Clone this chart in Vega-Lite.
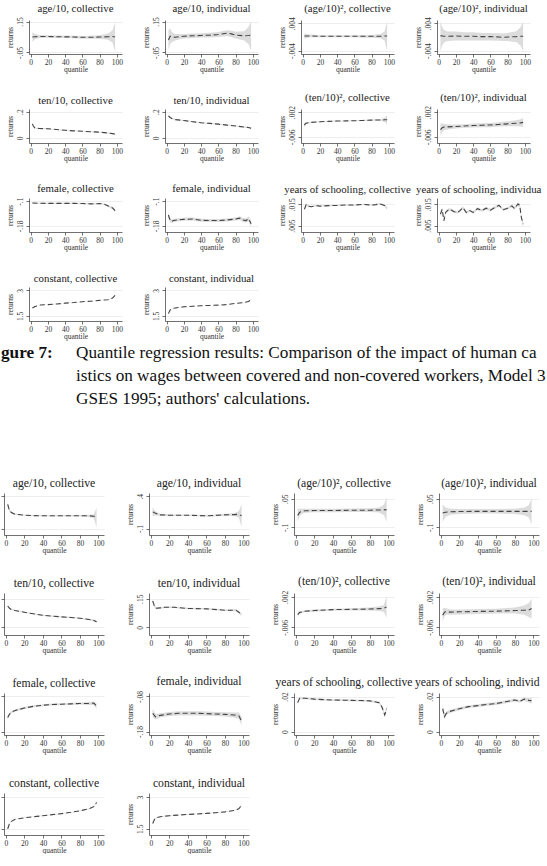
{
"$schema":"https://vega.github.io/schema/vega-lite/v6.json",
"background":"white",
"padding":{"left":0,"top":3,"right":0,"bottom":0},
"spacing":3,
"config":{
"font":"Liberation Serif",
"view":{"stroke":null,"continuousWidth":93,"continuousHeight":34},
"title":{"font":"Liberation Serif","fontSize":10.8,"fontWeight":"normal","color":"#222","offset":3,"frame":"group","anchor":"middle"},
"axis":{"labelFont":"Liberation Serif","titleFont":"Liberation Serif","labelFontSize":7.5,"titleFontSize":7.5,"titleFontWeight":"normal","labelColor":"#333","titleColor":"#333","domainColor":"#333","domainWidth":0.7,"tickColor":"#333","tickWidth":0.7,"tickSize":3,"labelPadding":1,"titlePadding":0,"gridColor":"#e3e3e3","gridWidth":0.6,"labelFlush":false},
"axisX":{"grid":false},
"axisY":{"grid":true,"labelAngle":-90,"labelAlign":"center","labelBaseline":"bottom","labelPadding":2,"titlePadding":2,"labelExpr":"replace(datum.value + '', regexp('^(-?)0\\\\.'), '$1.')"},
"text":{"font":"Liberation Serif","fontSize":7.5,"fill":"#333","angle":-90,"align":"left","baseline":"bottom","dx":-5,"dy":-5},
"line":{"color":"#444","strokeWidth":1.1,"strokeDash":[5,3]},
"area":{"color":"#d8d8d8","opacity":0.9}
},
"vconcat":[
{"hconcat":[
{"width":1,"height":1,"data":{"values":[]},"mark":{"type":"text","angle":0},"encoding":{}},
{"concat":[
{"title":"age/10, collective","data":{"name":"t1"},"encoding":{"x":{"field":"q","type":"quantitative","scale":{"domain":[-2,106]},"axis":{"values":[0,20,40,60,80,100],"title":"quantile"}}},"layer":[{"mark":"area","encoding":{"y":{"field":"lo","type":"quantitative","scale":{"domain":[-0.06,0.16]},"axis":{"values":[-0.05,0,0.05,0.1,0.15],"title":"returns"}},"y2":{"field":"hi"}}},{"mark":"line","encoding":{"y":{"field":"y","type":"quantitative"}}},{"data":{"name":"ya"},"mark":"text","encoding":{"x":{"datum":-2,"type":"quantitative"},"y":{"field":"v","type":"quantitative"},"text":{"field":"t","type":"nominal"}}}]},
{"title":"age/10, individual","data":{"name":"t2"},"encoding":{"x":{"field":"q","type":"quantitative","scale":{"domain":[-2,106]},"axis":{"values":[0,20,40,60,80,100],"title":"quantile"}}},"layer":[{"mark":"area","encoding":{"y":{"field":"lo","type":"quantitative","scale":{"domain":[-0.06,0.16]},"axis":{"values":[-0.05,0,0.05,0.1,0.15],"title":"returns"}},"y2":{"field":"hi"}}},{"mark":"line","encoding":{"y":{"field":"y","type":"quantitative"}}},{"data":{"name":"ya"},"mark":"text","encoding":{"x":{"datum":-2,"type":"quantitative"},"y":{"field":"v","type":"quantitative"},"text":{"field":"t","type":"nominal"}}}]},
{"title":"(age/10)², collective","data":{"name":"t3"},"encoding":{"x":{"field":"q","type":"quantitative","scale":{"domain":[-2,106]},"axis":{"values":[0,20,40,60,80,100],"title":"quantile"}}},"layer":[{"mark":"area","encoding":{"y":{"field":"lo","type":"quantitative","scale":{"domain":[-0.0047,0.0047]},"axis":{"values":[-0.004,-0.002,0,0.002,0.004],"title":"returns"}},"y2":{"field":"hi"}}},{"mark":"line","encoding":{"y":{"field":"y","type":"quantitative"}}},{"data":{"name":"yb"},"mark":"text","encoding":{"x":{"datum":-2,"type":"quantitative"},"y":{"field":"v","type":"quantitative"},"text":{"field":"t","type":"nominal"}}}]},
{"title":"(age/10)², individual","data":{"name":"t4"},"encoding":{"x":{"field":"q","type":"quantitative","scale":{"domain":[-2,106]},"axis":{"values":[0,20,40,60,80,100],"title":"quantile"}}},"layer":[{"mark":"area","encoding":{"y":{"field":"lo","type":"quantitative","scale":{"domain":[-0.0047,0.0047]},"axis":{"values":[-0.004,-0.002,0,0.002,0.004],"title":"returns"}},"y2":{"field":"hi"}}},{"mark":"line","encoding":{"y":{"field":"y","type":"quantitative"}}},{"data":{"name":"yb"},"mark":"text","encoding":{"x":{"datum":-2,"type":"quantitative"},"y":{"field":"v","type":"quantitative"},"text":{"field":"t","type":"nominal"}}}]},
{"title":"ten/10, collective","data":{"name":"t5"},"encoding":{"x":{"field":"q","type":"quantitative","scale":{"domain":[-2,106]},"axis":{"values":[0,20,40,60,80,100],"title":"quantile"}}},"layer":[{"mark":"area","encoding":{"y":{"field":"lo","type":"quantitative","scale":{"domain":[-0.035,0.205]},"axis":{"values":[0,0.05,0.1,0.15,0.2],"title":"returns"}},"y2":{"field":"hi"}}},{"mark":"line","encoding":{"y":{"field":"y","type":"quantitative"}}},{"data":{"name":"yc"},"mark":"text","encoding":{"x":{"datum":-2,"type":"quantitative"},"y":{"field":"v","type":"quantitative"},"text":{"field":"t","type":"nominal"}}}]},
{"title":"ten/10, individual","data":{"name":"t6"},"encoding":{"x":{"field":"q","type":"quantitative","scale":{"domain":[-2,106]},"axis":{"values":[0,20,40,60,80,100],"title":"quantile"}}},"layer":[{"mark":"area","encoding":{"y":{"field":"lo","type":"quantitative","scale":{"domain":[-0.035,0.205]},"axis":{"values":[0,0.05,0.1,0.15,0.2],"title":"returns"}},"y2":{"field":"hi"}}},{"mark":"line","encoding":{"y":{"field":"y","type":"quantitative"}}},{"data":{"name":"yc"},"mark":"text","encoding":{"x":{"datum":-2,"type":"quantitative"},"y":{"field":"v","type":"quantitative"},"text":{"field":"t","type":"nominal"}}}]},
{"title":"(ten/10)², collective","data":{"name":"t7"},"encoding":{"x":{"field":"q","type":"quantitative","scale":{"domain":[-2,106]},"axis":{"values":[0,20,40,60,80,100],"title":"quantile"}}},"layer":[{"mark":"area","encoding":{"y":{"field":"lo","type":"quantitative","scale":{"domain":[-0.0074,0.0021]},"axis":{"values":[-0.006,-0.004,-0.002,0,0.002],"title":"returns"}},"y2":{"field":"hi"}}},{"mark":"line","encoding":{"y":{"field":"y","type":"quantitative"}}},{"data":{"name":"yd"},"mark":"text","encoding":{"x":{"datum":-2,"type":"quantitative"},"y":{"field":"v","type":"quantitative"},"text":{"field":"t","type":"nominal"}}}]},
{"title":"(ten/10)², individual","data":{"name":"t8"},"encoding":{"x":{"field":"q","type":"quantitative","scale":{"domain":[-2,106]},"axis":{"values":[0,20,40,60,80,100],"title":"quantile"}}},"layer":[{"mark":"area","encoding":{"y":{"field":"lo","type":"quantitative","scale":{"domain":[-0.0074,0.0021]},"axis":{"values":[-0.006,-0.004,-0.002,0,0.002],"title":"returns"}},"y2":{"field":"hi"}}},{"mark":"line","encoding":{"y":{"field":"y","type":"quantitative"}}},{"data":{"name":"yd"},"mark":"text","encoding":{"x":{"datum":-2,"type":"quantitative"},"y":{"field":"v","type":"quantitative"},"text":{"field":"t","type":"nominal"}}}]},
{"title":"female, collective","data":{"name":"t9"},"encoding":{"x":{"field":"q","type":"quantitative","scale":{"domain":[-2,106]},"axis":{"values":[0,20,40,60,80,100],"title":"quantile"}}},"layer":[{"mark":"area","encoding":{"y":{"field":"lo","type":"quantitative","scale":{"domain":[-0.194,-0.099]},"axis":{"values":[-0.18,-0.16,-0.14,-0.12,-0.1],"title":"returns"}},"y2":{"field":"hi"}}},{"mark":"line","encoding":{"y":{"field":"y","type":"quantitative"}}},{"data":{"name":"ye"},"mark":"text","encoding":{"x":{"datum":-2,"type":"quantitative"},"y":{"field":"v","type":"quantitative"},"text":{"field":"t","type":"nominal"}}}]},
{"title":"female, individual","data":{"name":"t10"},"encoding":{"x":{"field":"q","type":"quantitative","scale":{"domain":[-2,106]},"axis":{"values":[0,20,40,60,80,100],"title":"quantile"}}},"layer":[{"mark":"area","encoding":{"y":{"field":"lo","type":"quantitative","scale":{"domain":[-0.194,-0.099]},"axis":{"values":[-0.18,-0.16,-0.14,-0.12,-0.1],"title":"returns"}},"y2":{"field":"hi"}}},{"mark":"line","encoding":{"y":{"field":"y","type":"quantitative"}}},{"data":{"name":"ye"},"mark":"text","encoding":{"x":{"datum":-2,"type":"quantitative"},"y":{"field":"v","type":"quantitative"},"text":{"field":"t","type":"nominal"}}}]},
{"title":"years of schooling, collective","data":{"name":"t11"},"encoding":{"x":{"field":"q","type":"quantitative","scale":{"domain":[-2,106]},"axis":{"values":[0,20,40,60,80,100],"title":"quantile"}}},"layer":[{"mark":"area","encoding":{"y":{"field":"lo","type":"quantitative","scale":{"domain":[0.002,0.0176]},"axis":{"values":[0.005,0.01,0.015],"title":"returns"}},"y2":{"field":"hi"}}},{"mark":"line","encoding":{"y":{"field":"y","type":"quantitative"}}},{"data":{"name":"yf"},"mark":"text","encoding":{"x":{"datum":-2,"type":"quantitative"},"y":{"field":"v","type":"quantitative"},"text":{"field":"t","type":"nominal"}}}]},
{"title":{"text":"years of schooling, individua","anchor":"start","dx":-21},"data":{"name":"t12"},"encoding":{"x":{"field":"q","type":"quantitative","scale":{"domain":[-2,106]},"axis":{"values":[0,20,40,60,80,100],"title":"quantile"}}},"layer":[{"mark":"area","encoding":{"y":{"field":"lo","type":"quantitative","scale":{"domain":[0.002,0.0176]},"axis":{"values":[0.005,0.01,0.015],"title":"returns"}},"y2":{"field":"hi"}}},{"mark":"line","encoding":{"y":{"field":"y","type":"quantitative"}}},{"data":{"name":"yf"},"mark":"text","encoding":{"x":{"datum":-2,"type":"quantitative"},"y":{"field":"v","type":"quantitative"},"text":{"field":"t","type":"nominal"}}}]},
{"title":"constant, collective","data":{"name":"t13"},"encoding":{"x":{"field":"q","type":"quantitative","scale":{"domain":[-2,106]},"axis":{"values":[0,20,40,60,80,100],"title":"quantile"}}},"layer":[{"mark":"area","encoding":{"y":{"field":"lo","type":"quantitative","scale":{"domain":[1.35,3.05]},"axis":{"values":[1.5,2,2.5,3],"title":"returns"}},"y2":{"field":"hi"}}},{"mark":"line","encoding":{"y":{"field":"y","type":"quantitative"}}},{"data":{"name":"yg"},"mark":"text","encoding":{"x":{"datum":-2,"type":"quantitative"},"y":{"field":"v","type":"quantitative"},"text":{"field":"t","type":"nominal"}}}]},
{"title":"constant, individual","data":{"name":"t14"},"encoding":{"x":{"field":"q","type":"quantitative","scale":{"domain":[-2,106]},"axis":{"values":[0,20,40,60,80,100],"title":"quantile"}}},"layer":[{"mark":"area","encoding":{"y":{"field":"lo","type":"quantitative","scale":{"domain":[1.35,3.05]},"axis":{"values":[1.5,2,2.5,3],"title":"returns"}},"y2":{"field":"hi"}}},{"mark":"line","encoding":{"y":{"field":"y","type":"quantitative"}}},{"data":{"name":"yg"},"mark":"text","encoding":{"x":{"datum":-2,"type":"quantitative"},"y":{"field":"v","type":"quantitative"},"text":{"field":"t","type":"nominal"}}}]}
],"columns":4,"spacing":{"row":55,"column":43},"bounds":"flush"}
],"spacing":0},
{"hconcat":[
{"width":65,"height":1,"data":{"values":[]},"mark":{"type":"text","angle":0},"encoding":{},"title":{"text":["gure 7:"," "," "],"anchor":"start","fontSize":17.2,"fontWeight":"bold","color":"#111","lineHeight":23,"offset":2,"dx":-3}},
{"width":470,"height":66,"data":{"values":[]},"mark":{"type":"text","angle":0},"encoding":{},"title":{"text":["Quantile regression results:  Comparison of the impact of human ca","istics on wages between covered and non-covered workers, Model 3","GSES 1995; authors' calculations."],"anchor":"start","fontSize":17.2,"fontWeight":"normal","color":"#111","lineHeight":23,"offset":2,"dx":-3}}
],"spacing":7},
{"concat":[
{"width":100,"height":42,"title":{"text":"age/10, collective","fontSize":11.7},"data":{"name":"b1"},"encoding":{"x":{"field":"q","type":"quantitative","scale":{"domain":[-2,106]},"axis":{"values":[0,20,40,60,80,100],"title":"quantile"}}},"layer":[{"mark":"area","encoding":{"y":{"field":"lo","type":"quantitative","scale":{"domain":[-0.19,0.45]},"axis":{"values":[-0.1,0,0.1,0.2,0.3,0.4],"title":null,"labels":false}},"y2":{"field":"hi"}}},{"mark":"line","encoding":{"y":{"field":"y","type":"quantitative"}}}]},
{"width":100,"height":42,"title":{"text":"age/10, individual","fontSize":11.7},"data":{"name":"b2"},"encoding":{"x":{"field":"q","type":"quantitative","scale":{"domain":[-2,106]},"axis":{"values":[0,20,40,60,80,100],"title":"quantile"}}},"layer":[{"mark":"area","encoding":{"y":{"field":"lo","type":"quantitative","scale":{"domain":[-0.19,0.45]},"axis":{"values":[-0.1,0,0.1,0.2,0.3,0.4],"title":"returns"}},"y2":{"field":"hi"}}},{"mark":"line","encoding":{"y":{"field":"y","type":"quantitative"}}},{"data":{"name":"yh"},"mark":"text","encoding":{"x":{"datum":-2,"type":"quantitative"},"y":{"field":"v","type":"quantitative"},"text":{"field":"t","type":"nominal"}}}]},
{"width":100,"height":42,"title":{"text":"(age/10)², collective","fontSize":11.7},"data":{"name":"b3"},"encoding":{"x":{"field":"q","type":"quantitative","scale":{"domain":[-2,106]},"axis":{"values":[0,20,40,60,80,100],"title":"quantile"}}},"layer":[{"mark":"area","encoding":{"y":{"field":"lo","type":"quantitative","scale":{"domain":[-0.124,0.065]},"axis":{"values":[-0.1,-0.05,0,0.05],"title":"returns"}},"y2":{"field":"hi"}}},{"mark":"line","encoding":{"y":{"field":"y","type":"quantitative"}}},{"data":{"name":"yi"},"mark":"text","encoding":{"x":{"datum":-2,"type":"quantitative"},"y":{"field":"v","type":"quantitative"},"text":{"field":"t","type":"nominal"}}}]},
{"width":100,"height":42,"title":{"text":"(age/10)², individual","fontSize":11.7},"data":{"name":"b4"},"encoding":{"x":{"field":"q","type":"quantitative","scale":{"domain":[-2,106]},"axis":{"values":[0,20,40,60,80,100],"title":"quantile"}}},"layer":[{"mark":"area","encoding":{"y":{"field":"lo","type":"quantitative","scale":{"domain":[-0.124,0.065]},"axis":{"values":[-0.1,-0.05,0,0.05],"title":"returns"}},"y2":{"field":"hi"}}},{"mark":"line","encoding":{"y":{"field":"y","type":"quantitative"}}},{"data":{"name":"yi"},"mark":"text","encoding":{"x":{"datum":-2,"type":"quantitative"},"y":{"field":"v","type":"quantitative"},"text":{"field":"t","type":"nominal"}}}]},
{"width":100,"height":42,"title":{"text":"ten/10, collective","fontSize":11.7},"data":{"name":"b5"},"encoding":{"x":{"field":"q","type":"quantitative","scale":{"domain":[-2,106]},"axis":{"values":[0,20,40,60,80,100],"title":"quantile"}}},"layer":[{"mark":"area","encoding":{"y":{"field":"lo","type":"quantitative","scale":{"domain":[-0.024,0.165]},"axis":{"values":[0,0.05,0.1,0.15],"title":null,"labels":false}},"y2":{"field":"hi"}}},{"mark":"line","encoding":{"y":{"field":"y","type":"quantitative"}}}]},
{"width":100,"height":42,"title":{"text":"ten/10, individual","fontSize":11.7},"data":{"name":"b6"},"encoding":{"x":{"field":"q","type":"quantitative","scale":{"domain":[-2,106]},"axis":{"values":[0,20,40,60,80,100],"title":"quantile"}}},"layer":[{"mark":"area","encoding":{"y":{"field":"lo","type":"quantitative","scale":{"domain":[-0.024,0.165]},"axis":{"values":[0,0.05,0.1,0.15],"title":"returns"}},"y2":{"field":"hi"}}},{"mark":"line","encoding":{"y":{"field":"y","type":"quantitative"}}},{"data":{"name":"yj"},"mark":"text","encoding":{"x":{"datum":-2,"type":"quantitative"},"y":{"field":"v","type":"quantitative"},"text":{"field":"t","type":"nominal"}}}]},
{"width":100,"height":42,"title":{"text":"(ten/10)², collective","fontSize":11.7},"data":{"name":"b7"},"encoding":{"x":{"field":"q","type":"quantitative","scale":{"domain":[-2,106]},"axis":{"values":[0,20,40,60,80,100],"title":"quantile"}}},"layer":[{"mark":"area","encoding":{"y":{"field":"lo","type":"quantitative","scale":{"domain":[-0.0073,0.0028]},"axis":{"values":[-0.006,-0.004,-0.002,0,0.002],"title":"returns"}},"y2":{"field":"hi"}}},{"mark":"line","encoding":{"y":{"field":"y","type":"quantitative"}}},{"data":{"name":"yd"},"mark":"text","encoding":{"x":{"datum":-2,"type":"quantitative"},"y":{"field":"v","type":"quantitative"},"text":{"field":"t","type":"nominal"}}}]},
{"width":100,"height":42,"title":{"text":"(ten/10)², individual","fontSize":11.7},"data":{"name":"b8"},"encoding":{"x":{"field":"q","type":"quantitative","scale":{"domain":[-2,106]},"axis":{"values":[0,20,40,60,80,100],"title":"quantile"}}},"layer":[{"mark":"area","encoding":{"y":{"field":"lo","type":"quantitative","scale":{"domain":[-0.0073,0.0028]},"axis":{"values":[-0.006,-0.004,-0.002,0,0.002],"title":"returns"}},"y2":{"field":"hi"}}},{"mark":"line","encoding":{"y":{"field":"y","type":"quantitative"}}},{"data":{"name":"yd"},"mark":"text","encoding":{"x":{"datum":-2,"type":"quantitative"},"y":{"field":"v","type":"quantitative"},"text":{"field":"t","type":"nominal"}}}]},
{"width":100,"height":42,"title":{"text":"female, collective","fontSize":11.7},"data":{"name":"b9"},"encoding":{"x":{"field":"q","type":"quantitative","scale":{"domain":[-2,106]},"axis":{"values":[0,20,40,60,80,100],"title":"quantile"}}},"layer":[{"mark":"area","encoding":{"y":{"field":"lo","type":"quantitative","scale":{"domain":[-0.188,-0.072]},"axis":{"values":[-0.18,-0.16,-0.14,-0.12,-0.1,-0.08],"title":null,"labels":false}},"y2":{"field":"hi"}}},{"mark":"line","encoding":{"y":{"field":"y","type":"quantitative"}}}]},
{"width":100,"height":42,"title":{"text":"female, individual","fontSize":11.7},"data":{"name":"b10"},"encoding":{"x":{"field":"q","type":"quantitative","scale":{"domain":[-2,106]},"axis":{"values":[0,20,40,60,80,100],"title":"quantile"}}},"layer":[{"mark":"area","encoding":{"y":{"field":"lo","type":"quantitative","scale":{"domain":[-0.188,-0.072]},"axis":{"values":[-0.18,-0.16,-0.14,-0.12,-0.1,-0.08],"title":"returns"}},"y2":{"field":"hi"}}},{"mark":"line","encoding":{"y":{"field":"y","type":"quantitative"}}},{"data":{"name":"yl"},"mark":"text","encoding":{"x":{"datum":-2,"type":"quantitative"},"y":{"field":"v","type":"quantitative"},"text":{"field":"t","type":"nominal"}}}]},
{"width":100,"height":42,"title":{"text":"years of schooling, collective","fontSize":11.7},"data":{"name":"b11"},"encoding":{"x":{"field":"q","type":"quantitative","scale":{"domain":[-2,106]},"axis":{"values":[0,20,40,60,80,100],"title":"quantile"}}},"layer":[{"mark":"area","encoding":{"y":{"field":"lo","type":"quantitative","scale":{"domain":[-0.0017,0.0217]},"axis":{"values":[0,0.005,0.01,0.015,0.02],"title":"returns"}},"y2":{"field":"hi"}}},{"mark":"line","encoding":{"y":{"field":"y","type":"quantitative"}}},{"data":{"name":"ym"},"mark":"text","encoding":{"x":{"datum":-2,"type":"quantitative"},"y":{"field":"v","type":"quantitative"},"text":{"field":"t","type":"nominal"}}}]},
{"width":100,"height":42,"title":{"text":"years of schooling, individ","fontSize":11.7,"anchor":"start","dx":-24},"data":{"name":"b12"},"encoding":{"x":{"field":"q","type":"quantitative","scale":{"domain":[-2,106]},"axis":{"values":[0,20,40,60,80,100],"title":"quantile"}}},"layer":[{"mark":"area","encoding":{"y":{"field":"lo","type":"quantitative","scale":{"domain":[-0.0017,0.0217]},"axis":{"values":[0,0.005,0.01,0.015,0.02],"title":"returns"}},"y2":{"field":"hi"}}},{"mark":"line","encoding":{"y":{"field":"y","type":"quantitative"}}},{"data":{"name":"ym"},"mark":"text","encoding":{"x":{"datum":-2,"type":"quantitative"},"y":{"field":"v","type":"quantitative"},"text":{"field":"t","type":"nominal"}}}]},
{"width":100,"height":42,"title":{"text":"constant, collective","fontSize":11.7},"data":{"name":"b13"},"encoding":{"x":{"field":"q","type":"quantitative","scale":{"domain":[-2,106]},"axis":{"values":[0,20,40,60,80,100],"title":"quantile"}}},"layer":[{"mark":"area","encoding":{"y":{"field":"lo","type":"quantitative","scale":{"domain":[1.33,3.13]},"axis":{"values":[1.5,2,2.5,3],"title":null,"labels":false}},"y2":{"field":"hi"}}},{"mark":"line","encoding":{"y":{"field":"y","type":"quantitative"}}}]},
{"width":100,"height":42,"title":{"text":"constant, individual","fontSize":11.7},"data":{"name":"b14"},"encoding":{"x":{"field":"q","type":"quantitative","scale":{"domain":[-2,106]},"axis":{"values":[0,20,40,60,80,100],"title":"quantile"}}},"layer":[{"mark":"area","encoding":{"y":{"field":"lo","type":"quantitative","scale":{"domain":[1.33,3.13]},"axis":{"values":[1.5,2,2.5,3],"title":"returns"}},"y2":{"field":"hi"}}},{"mark":"line","encoding":{"y":{"field":"y","type":"quantitative"}}},{"data":{"name":"yg"},"mark":"text","encoding":{"x":{"datum":-2,"type":"quantitative"},"y":{"field":"v","type":"quantitative"},"text":{"field":"t","type":"nominal"}}}]}
],"columns":4,"spacing":{"row":58,"column":45},"bounds":"flush"}
],
"datasets":{
"ya":[{"v":0,"t":"0"},{"v":0.05,"t":".05"},{"v":0.1,"t":".1"}],
"yb":[{"v":-0.002,"t":"-.002"},{"v":0,"t":"0"},{"v":0.002,"t":".002"}],
"yc":[{"v":0.05,"t":".05"},{"v":0.1,"t":".1"},{"v":0.15,"t":".15"}],
"yd":[{"v":-0.004,"t":"-.004"},{"v":-0.002,"t":"-.002"},{"v":0,"t":"0"}],
"ye":[{"v":-0.16,"t":"-.16"},{"v":-0.14,"t":"-.14"},{"v":-0.12,"t":"-.12"}],
"yf":[{"v":0.01,"t":".01"}],
"yg":[{"v":2,"t":"2"},{"v":2.5,"t":"2.5"}],
"yh":[{"v":0,"t":"0"},{"v":0.1,"t":".1"},{"v":0.2,"t":".2"},{"v":0.3,"t":".3"}],
"yi":[{"v":-0.05,"t":"-.05"},{"v":0,"t":"0"}],
"yj":[{"v":0.05,"t":".05"},{"v":0.1,"t":".1"}],
"yl":[{"v":-0.16,"t":"-.16"},{"v":-0.14,"t":"-.14"},{"v":-0.12,"t":"-.12"},{"v":-0.1,"t":"-.1"}],
"ym":[{"v":0.005,"t":".005"},{"v":0.01,"t":".01"},{"v":0.015,"t":".015"}],
"t1":[{"q":2,"y":0.05,"lo":0.02,"hi":0.08},{"q":5,"y":0.052,"lo":0.035,"hi":0.069},{"q":10,"y":0.053,"lo":0.043,"hi":0.063},{"q":20,"y":0.053,"lo":0.045,"hi":0.061},{"q":30,"y":0.052,"lo":0.044,"hi":0.06},{"q":40,"y":0.051,"lo":0.043,"hi":0.059},{"q":50,"y":0.05,"lo":0.042,"hi":0.058},{"q":60,"y":0.048,"lo":0.039,"hi":0.057},{"q":70,"y":0.048,"lo":0.038,"hi":0.058},{"q":80,"y":0.05,"lo":0.038,"hi":0.062},{"q":90,"y":0.052,"lo":0.032,"hi":0.072},{"q":95,"y":0.053,"lo":0.013,"hi":0.093},{"q":98,"y":0.05,"lo":-0.045,"hi":0.145}],
"t2":[{"q":2,"y":0.03,"lo":-0.035,"hi":0.095},{"q":4,"y":0.055,"lo":0.005,"hi":0.105},{"q":6,"y":0.05,"lo":0.018,"hi":0.082},{"q":10,"y":0.048,"lo":0.027,"hi":0.069},{"q":15,"y":0.052,"lo":0.035,"hi":0.069},{"q":20,"y":0.055,"lo":0.04,"hi":0.07},{"q":30,"y":0.058,"lo":0.044,"hi":0.072},{"q":40,"y":0.06,"lo":0.046,"hi":0.074},{"q":50,"y":0.062,"lo":0.047,"hi":0.077},{"q":60,"y":0.066,"lo":0.05,"hi":0.082},{"q":70,"y":0.075,"lo":0.057,"hi":0.093},{"q":75,"y":0.07,"lo":0.05,"hi":0.09},{"q":80,"y":0.062,"lo":0.04,"hi":0.084},{"q":90,"y":0.058,"lo":0.028,"hi":0.088},{"q":95,"y":0.06,"lo":0.005,"hi":0.115},{"q":98,"y":0.062,"lo":-0.04,"hi":0.15}],
"t3":[{"q":2,"y":0.0003,"lo":-0.0005,"hi":0.0011},{"q":5,"y":0.0003,"lo":-0.0002,"hi":0.0008},{"q":10,"y":0.0003,"lo":-0.0001,"hi":0.0007},{"q":20,"y":0.0002,"lo":-0.0001,"hi":0.0005},{"q":30,"y":0.0002,"lo":-0.0001,"hi":0.0005},{"q":40,"y":0.0002,"lo":-0.0001,"hi":0.0005},{"q":50,"y":0.0002,"lo":-0.0001,"hi":0.0005},{"q":60,"y":0.0002,"lo":-0.0001,"hi":0.0005},{"q":70,"y":0.0002,"lo":-0.0002,"hi":0.0006},{"q":80,"y":0.0002,"lo":-0.0002,"hi":0.0006},{"q":90,"y":0.0002,"lo":-0.0004,"hi":0.0008},{"q":95,"y":0.0003,"lo":-0.001,"hi":0.0016},{"q":98,"y":0.0003,"lo":-0.0042,"hi":0.0045}],
"t4":[{"q":2,"y":0.0004,"lo":-0.0042,"hi":0.0045},{"q":4,"y":0.0003,"lo":-0.0025,"hi":0.0031},{"q":6,"y":0.0002,"lo":-0.0017,"hi":0.0021},{"q":10,"y":0.0002,"lo":-0.0012,"hi":0.0016},{"q":20,"y":0.0003,"lo":-0.001,"hi":0.0016},{"q":30,"y":0.0002,"lo":-0.001,"hi":0.0014},{"q":40,"y":0.0002,"lo":-0.001,"hi":0.0014},{"q":50,"y":0.0001,"lo":-0.001,"hi":0.0012},{"q":60,"y":0.0001,"lo":-0.001,"hi":0.0012},{"q":70,"y":0,"lo":-0.0011,"hi":0.0011},{"q":75,"y":-0.0001,"lo":-0.0012,"hi":0.001},{"q":80,"y":0,"lo":-0.0012,"hi":0.0012},{"q":90,"y":0.0001,"lo":-0.0015,"hi":0.0017},{"q":95,"y":0.0002,"lo":-0.0025,"hi":0.0029},{"q":98,"y":0.0002,"lo":-0.0042,"hi":0.0045}],
"t5":[{"q":2,"y":0.106,"lo":0.1,"hi":0.112},{"q":3,"y":0.09,"lo":0.085,"hi":0.095},{"q":5,"y":0.073,"lo":0.069,"hi":0.077},{"q":10,"y":0.071,"lo":0.068,"hi":0.074},{"q":20,"y":0.069,"lo":0.066,"hi":0.072},{"q":30,"y":0.063,"lo":0.06,"hi":0.066},{"q":40,"y":0.057,"lo":0.054,"hi":0.06},{"q":50,"y":0.053,"lo":0.05,"hi":0.056},{"q":60,"y":0.05,"lo":0.047,"hi":0.053},{"q":70,"y":0.046,"lo":0.043,"hi":0.049},{"q":80,"y":0.043,"lo":0.04,"hi":0.046},{"q":90,"y":0.036,"lo":0.032,"hi":0.04},{"q":95,"y":0.032,"lo":0.027,"hi":0.037},{"q":98,"y":0.027,"lo":0.02,"hi":0.034}],
"t6":[{"q":2,"y":0.168,"lo":0.16,"hi":0.176},{"q":4,"y":0.155,"lo":0.149,"hi":0.161},{"q":6,"y":0.147,"lo":0.142,"hi":0.152},{"q":10,"y":0.139,"lo":0.135,"hi":0.143},{"q":20,"y":0.132,"lo":0.128,"hi":0.136},{"q":30,"y":0.123,"lo":0.119,"hi":0.127},{"q":40,"y":0.115,"lo":0.111,"hi":0.119},{"q":50,"y":0.11,"lo":0.106,"hi":0.114},{"q":60,"y":0.104,"lo":0.1,"hi":0.108},{"q":70,"y":0.097,"lo":0.093,"hi":0.101},{"q":80,"y":0.09,"lo":0.086,"hi":0.094},{"q":90,"y":0.082,"lo":0.077,"hi":0.087},{"q":95,"y":0.078,"lo":0.072,"hi":0.084},{"q":98,"y":0.073,"lo":0.065,"hi":0.081}],
"t7":[{"q":2,"y":-0.00225,"lo":-0.003,"hi":-0.0015},{"q":3,"y":-0.00175,"lo":-0.0022,"hi":-0.0013},{"q":5,"y":-0.00153,"lo":-0.0018,"hi":-0.0013},{"q":10,"y":-0.00133,"lo":-0.0015,"hi":-0.00116},{"q":20,"y":-0.00114,"lo":-0.0013,"hi":-0.00098},{"q":30,"y":-0.001,"lo":-0.00116,"hi":-0.00084},{"q":40,"y":-0.0009,"lo":-0.00106,"hi":-0.00074},{"q":50,"y":-0.00085,"lo":-0.001,"hi":-0.0007},{"q":60,"y":-0.0008,"lo":-0.00096,"hi":-0.00064},{"q":70,"y":-0.0007,"lo":-0.00088,"hi":-0.00052},{"q":80,"y":-0.0006,"lo":-0.0008,"hi":-0.0004},{"q":90,"y":-0.00055,"lo":-0.0008,"hi":-0.0003},{"q":95,"y":-0.0005,"lo":-0.0012,"hi":0.0002},{"q":98,"y":-0.0005,"lo":-0.0019,"hi":0.0009}],
"t8":[{"q":2,"y":-0.00364,"lo":-0.0056,"hi":-0.0017},{"q":4,"y":-0.00308,"lo":-0.0045,"hi":-0.0017},{"q":6,"y":-0.00286,"lo":-0.0039,"hi":-0.0018},{"q":10,"y":-0.0028,"lo":-0.0036,"hi":-0.002},{"q":20,"y":-0.00264,"lo":-0.0033,"hi":-0.002},{"q":30,"y":-0.0025,"lo":-0.0031,"hi":-0.0019},{"q":40,"y":-0.00236,"lo":-0.003,"hi":-0.0017},{"q":50,"y":-0.00226,"lo":-0.0029,"hi":-0.0016},{"q":60,"y":-0.00217,"lo":-0.0029,"hi":-0.0015},{"q":70,"y":-0.002,"lo":-0.0027,"hi":-0.0013},{"q":80,"y":-0.0018,"lo":-0.0026,"hi":-0.001},{"q":90,"y":-0.0016,"lo":-0.0026,"hi":-0.0006},{"q":95,"y":-0.0015,"lo":-0.0027,"hi":-0.0003},{"q":98,"y":-0.00133,"lo":-0.0028,"hi":0.0001}],
"t9":[{"q":2,"y":-0.1063,"lo":-0.109,"hi":-0.1036},{"q":10,"y":-0.107,"lo":-0.109,"hi":-0.105},{"q":20,"y":-0.1075,"lo":-0.1095,"hi":-0.1055},{"q":30,"y":-0.1075,"lo":-0.1095,"hi":-0.1055},{"q":40,"y":-0.1075,"lo":-0.1095,"hi":-0.1055},{"q":50,"y":-0.1075,"lo":-0.1095,"hi":-0.1055},{"q":60,"y":-0.108,"lo":-0.11,"hi":-0.106},{"q":70,"y":-0.109,"lo":-0.111,"hi":-0.107},{"q":80,"y":-0.108,"lo":-0.11,"hi":-0.106},{"q":85,"y":-0.11,"lo":-0.112,"hi":-0.108},{"q":90,"y":-0.116,"lo":-0.119,"hi":-0.113},{"q":95,"y":-0.122,"lo":-0.126,"hi":-0.118},{"q":98,"y":-0.131,"lo":-0.136,"hi":-0.126}],
"t10":[{"q":2,"y":-0.145,"lo":-0.155,"hi":-0.135},{"q":3,"y":-0.155,"lo":-0.163,"hi":-0.147},{"q":5,"y":-0.166,"lo":-0.172,"hi":-0.16},{"q":8,"y":-0.163,"lo":-0.168,"hi":-0.158},{"q":12,"y":-0.161,"lo":-0.166,"hi":-0.156},{"q":20,"y":-0.159,"lo":-0.164,"hi":-0.154},{"q":30,"y":-0.158,"lo":-0.163,"hi":-0.153},{"q":40,"y":-0.162,"lo":-0.167,"hi":-0.157},{"q":50,"y":-0.163,"lo":-0.168,"hi":-0.158},{"q":60,"y":-0.163,"lo":-0.168,"hi":-0.158},{"q":70,"y":-0.161,"lo":-0.166,"hi":-0.156},{"q":80,"y":-0.158,"lo":-0.163,"hi":-0.153},{"q":85,"y":-0.155,"lo":-0.161,"hi":-0.149},{"q":88,"y":-0.161,"lo":-0.167,"hi":-0.155},{"q":92,"y":-0.163,"lo":-0.17,"hi":-0.156},{"q":95,"y":-0.157,"lo":-0.165,"hi":-0.149},{"q":98,"y":-0.173,"lo":-0.183,"hi":-0.163}],
"t11":[{"q":2,"y":0.0127,"lo":0.0121,"hi":0.0133},{"q":4,"y":0.0149,"lo":0.0144,"hi":0.0154},{"q":6,"y":0.0142,"lo":0.0138,"hi":0.0146},{"q":10,"y":0.0139,"lo":0.0136,"hi":0.0142},{"q":15,"y":0.0144,"lo":0.0141,"hi":0.0147},{"q":20,"y":0.0142,"lo":0.0139,"hi":0.0145},{"q":30,"y":0.0144,"lo":0.0141,"hi":0.0147},{"q":40,"y":0.0145,"lo":0.0142,"hi":0.0148},{"q":50,"y":0.0147,"lo":0.0144,"hi":0.015},{"q":60,"y":0.0147,"lo":0.0144,"hi":0.015},{"q":70,"y":0.015,"lo":0.0147,"hi":0.0153},{"q":80,"y":0.0147,"lo":0.0144,"hi":0.015},{"q":85,"y":0.0149,"lo":0.0146,"hi":0.0152},{"q":90,"y":0.0152,"lo":0.0148,"hi":0.0156},{"q":95,"y":0.0145,"lo":0.014,"hi":0.015},{"q":98,"y":0.0133,"lo":0.0126,"hi":0.014}],
"t12":[{"q":2,"y":0.0104,"lo":0.0094,"hi":0.0114},{"q":4,"y":0.0127,"lo":0.0118,"hi":0.0136},{"q":6,"y":0.0073,"lo":0.0065,"hi":0.0081},{"q":8,"y":0.0112,"lo":0.0105,"hi":0.0119},{"q":12,"y":0.0127,"lo":0.0121,"hi":0.0133},{"q":15,"y":0.0122,"lo":0.0116,"hi":0.0128},{"q":18,"y":0.0115,"lo":0.0109,"hi":0.0121},{"q":22,"y":0.0112,"lo":0.0106,"hi":0.0118},{"q":25,"y":0.0122,"lo":0.0116,"hi":0.0128},{"q":28,"y":0.0135,"lo":0.0129,"hi":0.0141},{"q":32,"y":0.0112,"lo":0.0106,"hi":0.0118},{"q":36,"y":0.0121,"lo":0.0115,"hi":0.0127},{"q":40,"y":0.0112,"lo":0.0106,"hi":0.0118},{"q":45,"y":0.013,"lo":0.0124,"hi":0.0136},{"q":50,"y":0.0121,"lo":0.0115,"hi":0.0127},{"q":55,"y":0.0132,"lo":0.0126,"hi":0.0138},{"q":60,"y":0.0123,"lo":0.0117,"hi":0.0129},{"q":65,"y":0.0135,"lo":0.0129,"hi":0.0141},{"q":70,"y":0.0145,"lo":0.0139,"hi":0.0151},{"q":75,"y":0.0125,"lo":0.0119,"hi":0.0131},{"q":80,"y":0.0132,"lo":0.0126,"hi":0.0138},{"q":85,"y":0.0143,"lo":0.0137,"hi":0.0149},{"q":88,"y":0.013,"lo":0.0123,"hi":0.0137},{"q":92,"y":0.0152,"lo":0.0144,"hi":0.016},{"q":94,"y":0.0146,"lo":0.0137,"hi":0.0155},{"q":96,"y":0.0088,"lo":0.0078,"hi":0.0098},{"q":98,"y":0.0057,"lo":0.0045,"hi":0.0069}],
"t13":[{"q":2,"y":1.965,"lo":1.94,"hi":1.99},{"q":5,"y":2.05,"lo":2.035,"hi":2.065},{"q":10,"y":2.135,"lo":2.125,"hi":2.145},{"q":20,"y":2.165,"lo":2.155,"hi":2.175},{"q":30,"y":2.2,"lo":2.19,"hi":2.21},{"q":40,"y":2.25,"lo":2.24,"hi":2.26},{"q":50,"y":2.285,"lo":2.275,"hi":2.295},{"q":60,"y":2.335,"lo":2.325,"hi":2.345},{"q":70,"y":2.365,"lo":2.355,"hi":2.375},{"q":80,"y":2.415,"lo":2.405,"hi":2.425},{"q":90,"y":2.45,"lo":2.435,"hi":2.465},{"q":95,"y":2.55,"lo":2.53,"hi":2.57},{"q":98,"y":2.715,"lo":2.68,"hi":2.75}],
"t14":[{"q":2,"y":1.635,"lo":1.59,"hi":1.68},{"q":3,"y":1.75,"lo":1.72,"hi":1.78},{"q":4,"y":1.85,"lo":1.83,"hi":1.87},{"q":6,"y":1.935,"lo":1.92,"hi":1.95},{"q":10,"y":1.965,"lo":1.955,"hi":1.975},{"q":20,"y":2.035,"lo":2.025,"hi":2.045},{"q":30,"y":2.065,"lo":2.055,"hi":2.075},{"q":40,"y":2.1,"lo":2.09,"hi":2.11},{"q":50,"y":2.115,"lo":2.105,"hi":2.125},{"q":60,"y":2.135,"lo":2.125,"hi":2.145},{"q":70,"y":2.165,"lo":2.155,"hi":2.175},{"q":80,"y":2.235,"lo":2.225,"hi":2.245},{"q":90,"y":2.285,"lo":2.27,"hi":2.3},{"q":95,"y":2.35,"lo":2.33,"hi":2.37},{"q":98,"y":2.465,"lo":2.43,"hi":2.5}],
"b1":[{"q":2,"y":0.273,"lo":0.23,"hi":0.316},{"q":3,"y":0.223,"lo":0.19,"hi":0.256},{"q":4,"y":0.177,"lo":0.155,"hi":0.199},{"q":6,"y":0.147,"lo":0.132,"hi":0.162},{"q":10,"y":0.121,"lo":0.11,"hi":0.132},{"q":20,"y":0.106,"lo":0.097,"hi":0.115},{"q":30,"y":0.1,"lo":0.091,"hi":0.109},{"q":40,"y":0.097,"lo":0.088,"hi":0.106},{"q":50,"y":0.097,"lo":0.088,"hi":0.106},{"q":60,"y":0.097,"lo":0.088,"hi":0.106},{"q":70,"y":0.098,"lo":0.088,"hi":0.108},{"q":80,"y":0.098,"lo":0.086,"hi":0.11},{"q":90,"y":0.097,"lo":0.08,"hi":0.114},{"q":95,"y":0.091,"lo":0.06,"hi":0.122},{"q":98,"y":0.071,"lo":-0.08,"hi":0.22}],
"b2":[{"q":2,"y":0.158,"lo":0.09,"hi":0.226},{"q":5,"y":0.136,"lo":0.105,"hi":0.167},{"q":10,"y":0.112,"lo":0.095,"hi":0.129},{"q":20,"y":0.106,"lo":0.092,"hi":0.12},{"q":30,"y":0.106,"lo":0.093,"hi":0.119},{"q":40,"y":0.106,"lo":0.093,"hi":0.119},{"q":50,"y":0.102,"lo":0.089,"hi":0.115},{"q":60,"y":0.097,"lo":0.084,"hi":0.11},{"q":70,"y":0.104,"lo":0.09,"hi":0.118},{"q":80,"y":0.112,"lo":0.097,"hi":0.127},{"q":90,"y":0.116,"lo":0.095,"hi":0.137},{"q":95,"y":0.121,"lo":0.07,"hi":0.172},{"q":98,"y":0.097,"lo":-0.08,"hi":0.274}],
"b3":[{"q":2,"y":-0.037,"lo":-0.072,"hi":-0.002},{"q":4,"y":-0.022,"lo":-0.042,"hi":-0.002},{"q":6,"y":-0.016,"lo":-0.03,"hi":-0.002},{"q":10,"y":-0.013,"lo":-0.024,"hi":-0.002},{"q":20,"y":-0.012,"lo":-0.021,"hi":-0.003},{"q":40,"y":-0.012,"lo":-0.021,"hi":-0.003},{"q":60,"y":-0.01,"lo":-0.019,"hi":-0.001},{"q":80,"y":-0.01,"lo":-0.02,"hi":0},{"q":90,"y":-0.009,"lo":-0.022,"hi":0.004},{"q":95,"y":-0.0086,"lo":-0.035,"hi":0.018},{"q":98,"y":-0.007,"lo":-0.07,"hi":0.056}],
"b4":[{"q":2,"y":-0.025,"lo":-0.07,"hi":0.02},{"q":5,"y":-0.021,"lo":-0.046,"hi":0.004},{"q":10,"y":-0.018,"lo":-0.034,"hi":-0.002},{"q":20,"y":-0.017,"lo":-0.03,"hi":-0.004},{"q":40,"y":-0.016,"lo":-0.028,"hi":-0.004},{"q":60,"y":-0.016,"lo":-0.028,"hi":-0.004},{"q":80,"y":-0.016,"lo":-0.03,"hi":-0.002},{"q":90,"y":-0.016,"lo":-0.036,"hi":0.004},{"q":95,"y":-0.016,"lo":-0.048,"hi":0.016},{"q":98,"y":-0.016,"lo":-0.085,"hi":0.053}],
"b5":[{"q":2,"y":0.112,"lo":0.106,"hi":0.118},{"q":4,"y":0.1,"lo":0.096,"hi":0.104},{"q":6,"y":0.093,"lo":0.09,"hi":0.096},{"q":10,"y":0.088,"lo":0.085,"hi":0.091},{"q":20,"y":0.079,"lo":0.076,"hi":0.082},{"q":30,"y":0.071,"lo":0.068,"hi":0.074},{"q":40,"y":0.063,"lo":0.06,"hi":0.066},{"q":50,"y":0.059,"lo":0.056,"hi":0.062},{"q":60,"y":0.055,"lo":0.052,"hi":0.058},{"q":70,"y":0.052,"lo":0.049,"hi":0.055},{"q":80,"y":0.048,"lo":0.045,"hi":0.051},{"q":90,"y":0.041,"lo":0.037,"hi":0.045},{"q":95,"y":0.036,"lo":0.031,"hi":0.041},{"q":98,"y":0.03,"lo":0.023,"hi":0.037}],
"b6":[{"q":2,"y":0.138,"lo":0.128,"hi":0.148},{"q":3,"y":0.124,"lo":0.116,"hi":0.132},{"q":4,"y":0.108,"lo":0.101,"hi":0.115},{"q":6,"y":0.1,"lo":0.095,"hi":0.105},{"q":10,"y":0.102,"lo":0.098,"hi":0.106},{"q":15,"y":0.105,"lo":0.101,"hi":0.109},{"q":25,"y":0.105,"lo":0.101,"hi":0.109},{"q":40,"y":0.099,"lo":0.095,"hi":0.103},{"q":60,"y":0.097,"lo":0.093,"hi":0.101},{"q":80,"y":0.09,"lo":0.086,"hi":0.094},{"q":92,"y":0.09,"lo":0.085,"hi":0.095},{"q":95,"y":0.079,"lo":0.073,"hi":0.085},{"q":98,"y":0.067,"lo":0.059,"hi":0.075}],
"b7":[{"q":2,"y":-0.00265,"lo":-0.0033,"hi":-0.002},{"q":4,"y":-0.0021,"lo":-0.0025,"hi":-0.0017},{"q":6,"y":-0.002,"lo":-0.0023,"hi":-0.0017},{"q":10,"y":-0.00176,"lo":-0.002,"hi":-0.0015},{"q":20,"y":-0.0016,"lo":-0.0019,"hi":-0.0013},{"q":40,"y":-0.00135,"lo":-0.0016,"hi":-0.0011},{"q":60,"y":-0.00128,"lo":-0.0016,"hi":-0.001},{"q":80,"y":-0.0012,"lo":-0.0016,"hi":-0.0008},{"q":90,"y":-0.0011,"lo":-0.0017,"hi":-0.0005},{"q":95,"y":-0.00104,"lo":-0.0019,"hi":-0.0002},{"q":98,"y":-0.00063,"lo":-0.0035,"hi":0.0022}],
"b8":[{"q":2,"y":-0.0028,"lo":-0.0046,"hi":-0.001},{"q":4,"y":-0.002,"lo":-0.0031,"hi":-0.0009},{"q":6,"y":-0.00183,"lo":-0.0027,"hi":-0.001},{"q":10,"y":-0.002,"lo":-0.0027,"hi":-0.0013},{"q":20,"y":-0.00193,"lo":-0.0026,"hi":-0.0013},{"q":40,"y":-0.00183,"lo":-0.0025,"hi":-0.0012},{"q":60,"y":-0.00176,"lo":-0.0024,"hi":-0.0011},{"q":80,"y":-0.0016,"lo":-0.0024,"hi":-0.0008},{"q":90,"y":-0.0015,"lo":-0.0027,"hi":-0.0003},{"q":95,"y":-0.00145,"lo":-0.0033,"hi":0.0004},{"q":98,"y":-0.00104,"lo":-0.0036,"hi":0.0015}],
"b9":[{"q":2,"y":-0.14,"lo":-0.145,"hi":-0.135},{"q":4,"y":-0.13,"lo":-0.134,"hi":-0.126},{"q":6,"y":-0.125,"lo":-0.128,"hi":-0.122},{"q":10,"y":-0.12,"lo":-0.123,"hi":-0.117},{"q":20,"y":-0.113,"lo":-0.116,"hi":-0.11},{"q":30,"y":-0.108,"lo":-0.111,"hi":-0.105},{"q":40,"y":-0.105,"lo":-0.108,"hi":-0.102},{"q":50,"y":-0.103,"lo":-0.106,"hi":-0.1},{"q":60,"y":-0.102,"lo":-0.105,"hi":-0.099},{"q":70,"y":-0.101,"lo":-0.104,"hi":-0.098},{"q":80,"y":-0.1,"lo":-0.103,"hi":-0.097},{"q":90,"y":-0.1,"lo":-0.104,"hi":-0.096},{"q":95,"y":-0.099,"lo":-0.104,"hi":-0.094},{"q":98,"y":-0.108,"lo":-0.116,"hi":-0.1}],
"b10":[{"q":2,"y":-0.128,"lo":-0.14,"hi":-0.116},{"q":5,"y":-0.138,"lo":-0.146,"hi":-0.13},{"q":10,"y":-0.134,"lo":-0.14,"hi":-0.128},{"q":20,"y":-0.13,"lo":-0.136,"hi":-0.124},{"q":30,"y":-0.128,"lo":-0.134,"hi":-0.122},{"q":40,"y":-0.128,"lo":-0.134,"hi":-0.122},{"q":50,"y":-0.128,"lo":-0.134,"hi":-0.122},{"q":60,"y":-0.129,"lo":-0.135,"hi":-0.123},{"q":70,"y":-0.13,"lo":-0.136,"hi":-0.124},{"q":80,"y":-0.131,"lo":-0.137,"hi":-0.125},{"q":90,"y":-0.133,"lo":-0.14,"hi":-0.126},{"q":95,"y":-0.135,"lo":-0.144,"hi":-0.126},{"q":98,"y":-0.15,"lo":-0.162,"hi":-0.138}],
"b11":[{"q":2,"y":0.0165,"lo":0.0155,"hi":0.0175},{"q":4,"y":0.019,"lo":0.0183,"hi":0.0197},{"q":10,"y":0.019,"lo":0.0185,"hi":0.0195},{"q":20,"y":0.0185,"lo":0.018,"hi":0.019},{"q":30,"y":0.0182,"lo":0.0177,"hi":0.0187},{"q":40,"y":0.018,"lo":0.0175,"hi":0.0185},{"q":50,"y":0.0179,"lo":0.0174,"hi":0.0184},{"q":60,"y":0.0178,"lo":0.0173,"hi":0.0183},{"q":70,"y":0.0177,"lo":0.0172,"hi":0.0182},{"q":80,"y":0.0175,"lo":0.017,"hi":0.018},{"q":90,"y":0.0165,"lo":0.0158,"hi":0.0172},{"q":93,"y":0.014,"lo":0.0132,"hi":0.0148},{"q":96,"y":0.0095,"lo":0.0085,"hi":0.0105},{"q":98,"y":0.013,"lo":0.011,"hi":0.015}],
"b12":[{"q":2,"y":0.013,"lo":0.011,"hi":0.015},{"q":4,"y":0.0085,"lo":0.0072,"hi":0.0098},{"q":6,"y":0.0105,"lo":0.0095,"hi":0.0115},{"q":10,"y":0.0115,"lo":0.0106,"hi":0.0124},{"q":20,"y":0.013,"lo":0.0122,"hi":0.0138},{"q":30,"y":0.0142,"lo":0.0134,"hi":0.015},{"q":40,"y":0.0148,"lo":0.014,"hi":0.0156},{"q":50,"y":0.0155,"lo":0.0147,"hi":0.0163},{"q":60,"y":0.016,"lo":0.0152,"hi":0.0168},{"q":70,"y":0.017,"lo":0.0162,"hi":0.0178},{"q":80,"y":0.018,"lo":0.0172,"hi":0.0188},{"q":85,"y":0.0172,"lo":0.0164,"hi":0.018},{"q":90,"y":0.0185,"lo":0.0176,"hi":0.0194},{"q":95,"y":0.0178,"lo":0.0166,"hi":0.019},{"q":98,"y":0.0176,"lo":0.0158,"hi":0.0194}],
"b13":[{"q":2,"y":1.5,"lo":1.44,"hi":1.56},{"q":4,"y":1.75,"lo":1.72,"hi":1.78},{"q":6,"y":1.85,"lo":1.83,"hi":1.87},{"q":10,"y":1.95,"lo":1.935,"hi":1.965},{"q":20,"y":2.02,"lo":2.005,"hi":2.035},{"q":30,"y":2.07,"lo":2.055,"hi":2.085},{"q":40,"y":2.12,"lo":2.105,"hi":2.135},{"q":50,"y":2.17,"lo":2.155,"hi":2.185},{"q":60,"y":2.22,"lo":2.205,"hi":2.235},{"q":70,"y":2.28,"lo":2.265,"hi":2.295},{"q":80,"y":2.35,"lo":2.335,"hi":2.365},{"q":90,"y":2.45,"lo":2.43,"hi":2.47},{"q":95,"y":2.55,"lo":2.52,"hi":2.58},{"q":98,"y":2.75,"lo":2.7,"hi":2.8}],
"b14":[{"q":2,"y":1.75,"lo":1.7,"hi":1.8},{"q":4,"y":1.95,"lo":1.92,"hi":1.98},{"q":6,"y":2.02,"lo":2.0,"hi":2.04},{"q":10,"y":2.07,"lo":2.055,"hi":2.085},{"q":20,"y":2.12,"lo":2.105,"hi":2.135},{"q":30,"y":2.15,"lo":2.135,"hi":2.165},{"q":40,"y":2.18,"lo":2.165,"hi":2.195},{"q":50,"y":2.2,"lo":2.185,"hi":2.215},{"q":60,"y":2.23,"lo":2.215,"hi":2.245},{"q":70,"y":2.26,"lo":2.245,"hi":2.275},{"q":80,"y":2.3,"lo":2.285,"hi":2.315},{"q":90,"y":2.37,"lo":2.35,"hi":2.39},{"q":95,"y":2.45,"lo":2.42,"hi":2.48},{"q":98,"y":2.62,"lo":2.57,"hi":2.67}]
}
}
